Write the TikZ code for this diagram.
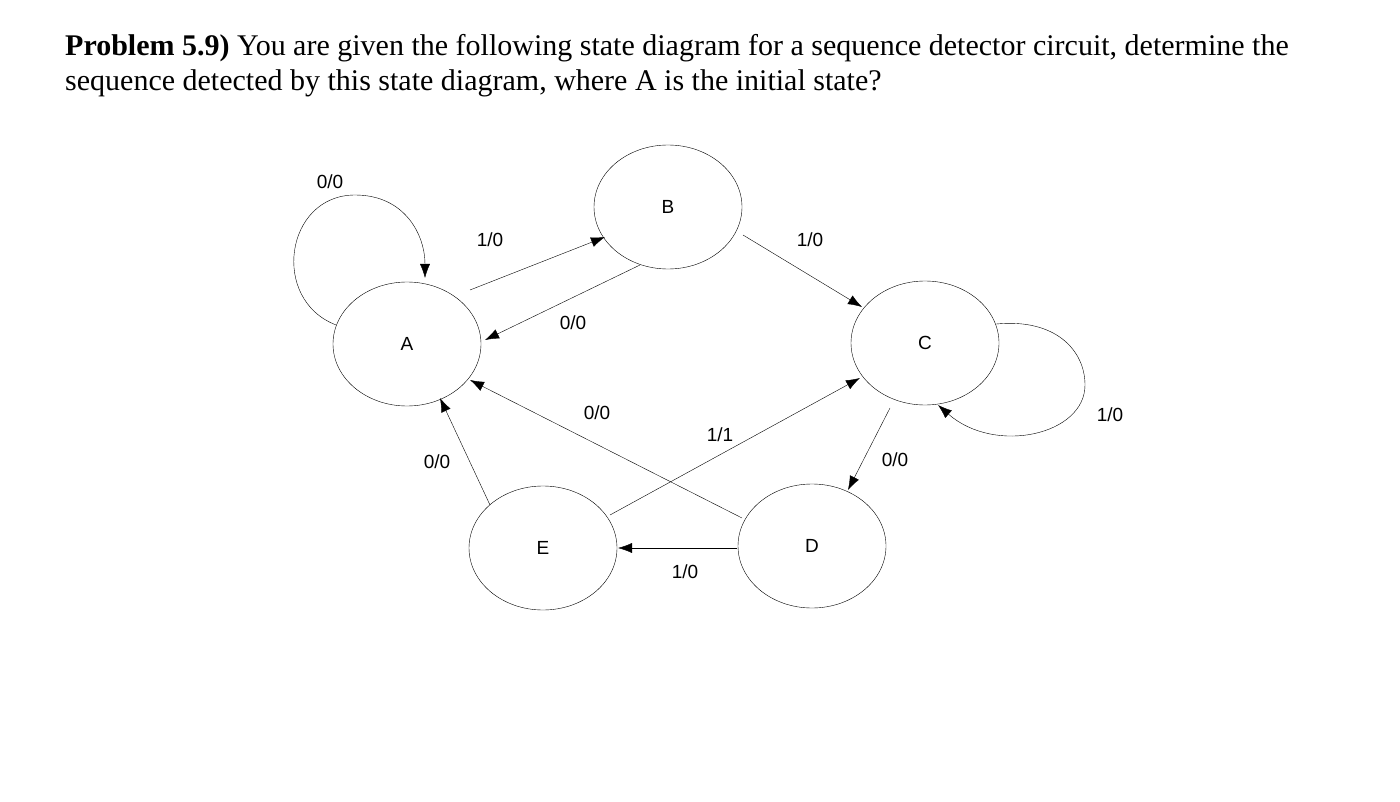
\documentclass[tikz,border=0pt]{standalone}
\usepackage{fontspec}
\setmainfont{Liberation Serif}
\newfontfamily\lab{Liberation Sans}
\usetikzlibrary{shapes.geometric,arrows.meta}
\begin{document}
\begin{tikzpicture}[x=1pt,y=-1pt,
  st/.style={draw,ellipse,minimum width=148pt,minimum height=124pt,inner sep=0pt,font=\lab\fontsize{19}{19}\selectfont},
  tr/.style={draw,-{Latex[length=14pt,width=10pt]}},
  lb/.style={font=\lab\fontsize{19}{19}\selectfont}]
\useasboundingbox (0,0) rectangle (1400,802);
\node[anchor=base west,inner sep=0pt,font=\fontsize{30}{35}\selectfont] (t1) at (65,56) {\textbf{Problem 5.9)} You are given the following state diagram for a sequence detector circuit, determine the};
\node[anchor=base west,inner sep=0pt,font=\fontsize{30}{35}\selectfont] (t2) at (65,91) {sequence detected by this state diagram, where A is the initial state?};
\node[st] (A) at (407,344) {A};
\node[st] (B) at (668,207) {B};
\node[st] (C) at (925,343) {C};
\node[st] (D) at (812,546) {D};
\node[st] (E) at (543,548) {E};
\coordinate (a1) at (355,195);
\coordinate (c1) at (1085,385);
\draw[tr] (A.165) .. controls (270,300) and (285,195) .. (a1) .. controls (405,195) and (425,235) .. (425,278);
\draw[tr] (C.15) .. controls (1055,318) and (1085,350) .. (c1) .. controls (1085,435) and (995,455) .. (938,405);
\draw[tr] (470,290) -- (605,237);
\draw[tr] (640,265) -- (485,340);
\draw[tr] (743,235) -- (862,307);
\draw[tr] (742,518) -- (470,380);
\draw[tr] (610,515) -- (860,378);
\draw[tr] (890,408) -- (848,490);
\draw[tr] (737,548) -- (618,548);
\draw[tr] (490,505) -- (440,398);
\node[lb] (l1) at (330,182) {0/0};
\node[lb] (l2) at (490,240) {1/0};
\node[lb] (l3) at (573,323) {0/0};
\node[lb] (l4) at (810,240) {1/0};
\node[lb] (l5) at (597,413) {0/0};
\node[lb] (l6) at (720,435) {1/1};
\node[lb] (l7) at (895,460) {0/0};
\node[lb] (l8) at (685,572) {1/0};
\node[lb] (l9) at (437,462) {0/0};
\node[lb] (l10) at (1110,415) {1/0};
\end{tikzpicture}
\end{document}
